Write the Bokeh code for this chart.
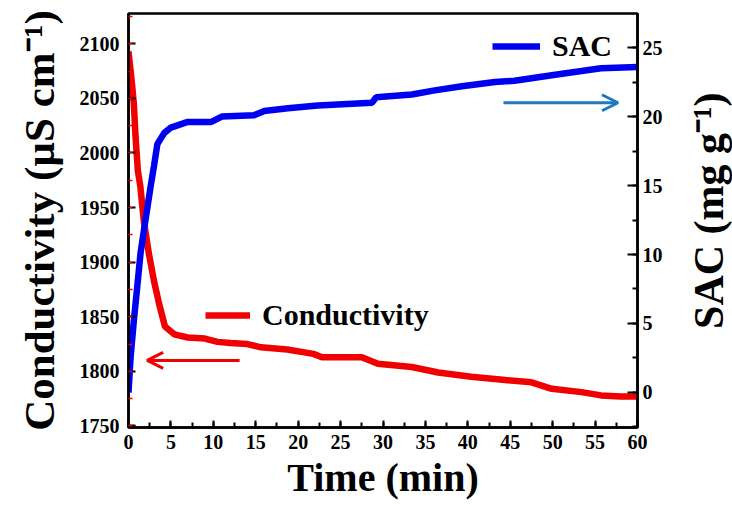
import math
from bokeh.plotting import figure
from bokeh.layouts import row
from bokeh.models import (Range1d, LinearAxis, SingleIntervalTicker, Legend, LegendItem,
                          Arrow, OpenHead)
from bokeh.core.properties import value
from bokeh.embed import file_html
from bokeh.resources import INLINE

# ---- data ----
time_cond = [0, 0.4, 0.63, 0.83, 1.1, 1.4, 1.8, 2.4, 3.0, 3.6, 4.3, 5.4, 5.9, 7, 9.0, 10.5, 12,
             14.0, 15.6, 18.7, 21.8, 22.8, 27.5, 29.4, 33.4, 36.5, 40.4, 44.4, 47.5, 49.9,
             53.4, 55.7, 58, 60]
conductivity = [2093, 2064, 2045, 2015, 1984, 1969, 1938, 1908, 1883, 1862, 1841, 1834, 1833,
                1831, 1830, 1827, 1826, 1825, 1822, 1820, 1816, 1813, 1813, 1807, 1804, 1799,
                1795, 1792, 1790, 1784, 1781, 1778, 1777, 1777]

time_sac = [0, 0.24, 0.63, 1.02, 1.42, 2.0, 2.6, 3.0, 3.4, 4.2, 5.0, 6.9, 9.7, 11, 14.8, 16,
            18.8, 22.3, 28.7, 29.2, 33.4, 36.1, 39.3, 43.2, 45.5, 49.9, 53.4, 55.7, 60]
sac = [0, 2.5, 5.2, 7.6, 10.1, 12.5, 14.9, 16.4, 18.0, 18.8, 19.2, 19.6, 19.6, 20.0, 20.1,
       20.4, 20.6, 20.8, 21.0, 21.4, 21.6, 21.9, 22.2, 22.5, 22.6, 23.0, 23.3, 23.5, 23.6]

x_label = "Time (min)"
y_label = "Conductivity (µS cm⁻¹)"
y2_label = "SAC (mg g⁻¹)"
cond_name = "Conductivity"
sac_name = "SAC"

# arrows pointing to the axis each series belongs to (data units)
cond_arrow = dict(x_start=13.1, x_end=2.2, y=1810)
sac_arrow = dict(x_start=44.2, x_end=57.7, y=21.0)

FONT = "'Liberation Serif', serif"
RED = "#f00000"
BLUE = "#0000f0"
ARROW_BLUE = "#2078c0"

TOTAL_W, H = 732, 506
TITLE_W = 52                      # strip on the right holding the SAC axis title
MAIN_W = TOTAL_W - TITLE_W

p_main = figure(width=MAIN_W, height=H, output_backend="svg", toolbar_location=None,
                x_range=Range1d(0, 60), y_range=Range1d(1748.6, 2127.7),
                min_border_left=128, min_border_right=43, min_border_top=13,
                min_border_bottom=79,
                background_fill_color="white", border_fill_color="white")
p_main.extra_y_ranges = {"y2": Range1d(-2.54, 27.47)}
p_main.xgrid.visible = False
p_main.ygrid.visible = False
p_main.outline_line_color = "black"
p_main.outline_line_width = 2.5


def style_axis(ax, major_in, minor_in, label_size):
    ax.axis_line_width = 2.5
    ax.axis_line_color = "black"
    ax.major_tick_in = major_in
    ax.major_tick_out = 0
    ax.minor_tick_in = minor_in
    ax.minor_tick_out = 0
    ax.major_tick_line_width = 2
    ax.minor_tick_line_width = 2
    ax.major_label_text_font = FONT
    ax.major_label_text_font_style = "bold"
    ax.major_label_text_font_size = "20px"
    ax.major_label_text_color = "black"
    ax.axis_label_text_font = FONT
    ax.axis_label_text_font_style = "bold"
    ax.axis_label_text_font_size = label_size
    ax.axis_label_text_color = "black"


xa = p_main.xaxis[0]
xa.ticker = SingleIntervalTicker(interval=5, num_minor_ticks=2)
xa.axis_label = x_label
style_axis(xa, 7, 5, "40px")
xa.major_label_standoff = 7
xa.axis_label_standoff = 3

ya = p_main.yaxis[0]
ya.ticker = SingleIntervalTicker(interval=50, num_minor_ticks=2)
ya.axis_label = y_label
style_axis(ya, 7, 4, "43px")
ya.minor_tick_line_color = RED
ya.minor_tick_line_width = 1.5
ya.major_label_standoff = 9
ya.axis_label_standoff = 14

y2 = LinearAxis(y_range_name="y2",
                ticker=SingleIntervalTicker(interval=5, num_minor_ticks=2))
style_axis(y2, 10, 5, "40px")
y2.major_label_standoff = 5
p_main.add_layout(y2, "right")

r_cond = p_main.line(time_cond, conductivity, line_color=RED, line_width=6.5)
r_sac = p_main.line(time_sac, sac, line_color=BLUE, line_width=6.5, y_range_name="y2")


def make_legend(label, renderer, loc, gw):
    lg = Legend(items=[LegendItem(label=label, renderers=[renderer])], location=loc,
                padding=0, margin=0, glyph_width=gw, glyph_height=32, label_height=32,
                label_standoff=12, background_fill_alpha=0, border_line_alpha=0,
                label_text_font=FONT, label_text_font_style="bold",
                label_text_font_size="30px", label_text_color="black")
    return lg


p_main.add_layout(make_legend(sac_name, r_sac, (364, 364), 48))
p_main.add_layout(make_legend(cond_name, r_cond, (77, 95), 45))

p_main.add_layout(Arrow(x_start=cond_arrow["x_start"], y_start=cond_arrow["y"],
                        x_end=cond_arrow["x_end"], y_end=cond_arrow["y"],
                        line_color=RED, line_width=3,
                        end=OpenHead(size=16, line_color=RED, line_width=3)))
p_main.add_layout(Arrow(x_start=sac_arrow["x_start"], y_start=sac_arrow["y"],
                        x_end=sac_arrow["x_end"], y_end=sac_arrow["y"], y_range_name="y2",
                        line_color=ARROW_BLUE, line_width=3,
                        end=OpenHead(size=16, line_color=ARROW_BLUE, line_width=3)))

# ---- strip carrying the right axis title (reads bottom to top) ----
p_title = figure(width=TITLE_W, height=H, output_backend="svg", toolbar_location=None,
                 x_range=Range1d(0, TITLE_W), y_range=Range1d(0, H),
                 x_axis_location=None, y_axis_location=None,
                 min_border=0, min_border_left=0, min_border_right=0,
                 min_border_top=0, min_border_bottom=0,
                 background_fill_color="white", border_fill_color="white")
p_title.grid.visible = False
p_title.outline_line_color = None
p_title.text(x=[28], y=[265], text=[y2_label], angle=math.pi / 2,
             text_align="center", text_baseline="alphabetic",
             text_font=value(FONT), text_font_style="bold",
             text_font_size=value("42px"), text_color="black")

layout = row(p_main, p_title, spacing=0)
open("out.html", "w").write(file_html(layout, INLINE))
